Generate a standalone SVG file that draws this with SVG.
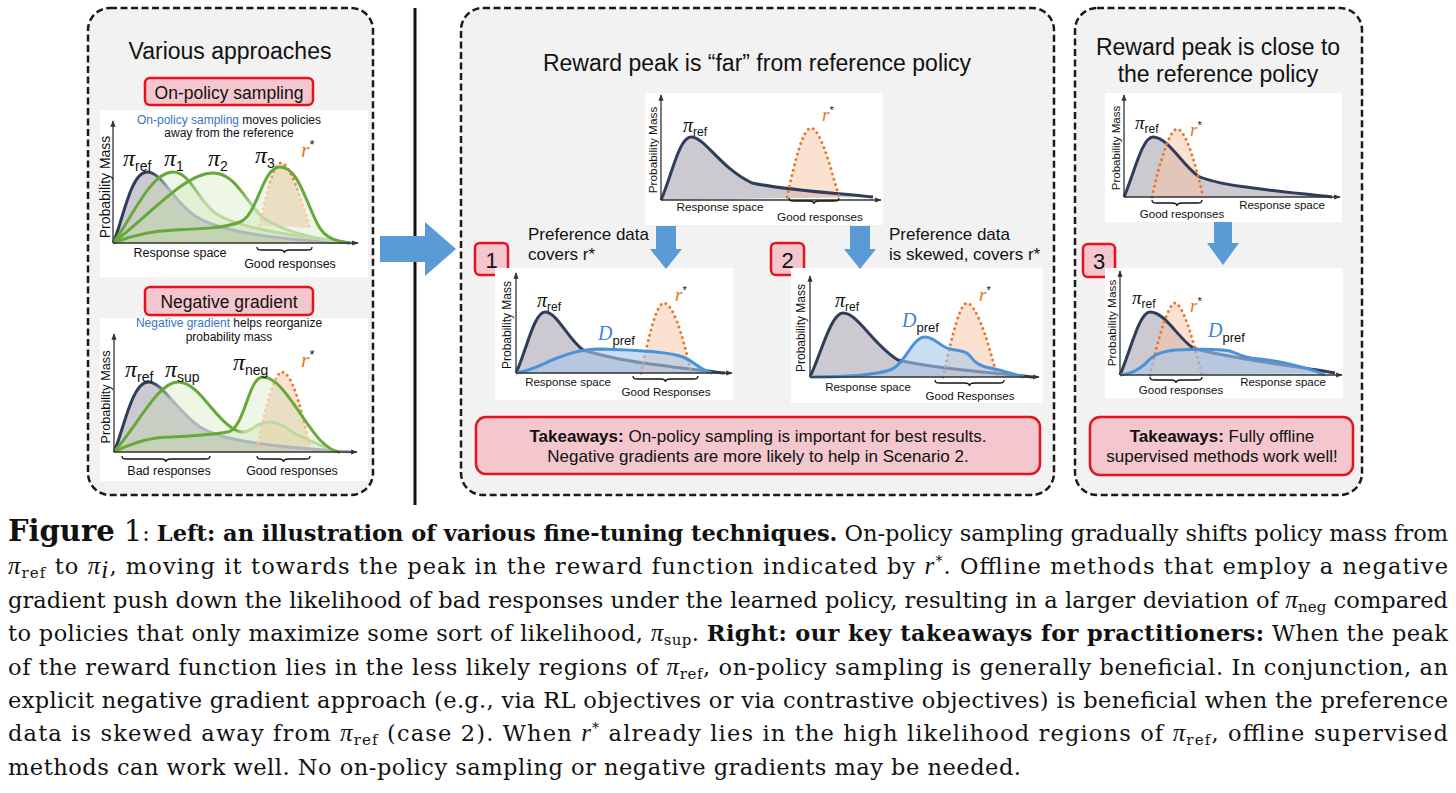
<svg xmlns="http://www.w3.org/2000/svg" width="1456" height="793" viewBox="0 0 1456 793">
<defs>
<style>
.panel{fill:#f2f2f2;stroke:#1a1a1a;stroke-width:2.5;stroke-dasharray:7 3.5}
.red{fill:#f3c7cd;stroke:#e5131d;stroke-width:2.5}
.bg{fill:#ffffff}
.ax{stroke:#333;stroke-width:1.3;fill:none}
.sans{font-family:"Liberation Sans",Arial,sans-serif;fill:#111}
.mi{font-family:"Liberation Serif","Times New Roman",serif;font-style:italic}
.refl{stroke:#2f3d5a;stroke-width:3;fill:none;stroke-linejoin:round}
.reff{fill:#8f8899;fill-opacity:0.45;stroke:none}
.grl{stroke:#67a83a;stroke-width:3;fill:none}
.grf{fill:#bcdca0;fill-opacity:0.26;stroke:none}
.rsl{stroke:#e8762a;stroke-width:3;fill:none;stroke-dasharray:0 5.5;stroke-linecap:round}
.rsf{fill:#f7c4a2;fill-opacity:0.5;stroke:none}
.dpl{stroke:#4b93d8;stroke-width:3;fill:none}
.dpf{fill:#a9c7ea;fill-opacity:0.6;stroke:none}
.arr{fill:#5b9bd5}
.brace{stroke:#111;stroke-width:1.3;fill:none}
.cap{font-family:"DejaVu Serif","Liberation Serif",serif;font-size:22.5px;fill:#111}
.cmi{font-family:"Liberation Serif","Times New Roman",serif;font-style:italic;font-size:25px}
</style>
<marker id="ah" viewBox="0 0 10 10" refX="9" refY="5" markerWidth="5" markerHeight="5" orient="auto"><path d="M0,1 L10,5 L0,9 Z" fill="#333"/></marker>
<linearGradient id="gRefLT" gradientUnits="userSpaceOnUse" x1="150" y1="0" x2="170" y2="0"><stop offset="0" stop-color="#2f3d5a"/><stop offset="1" stop-color="#b0b5be"/></linearGradient>
<linearGradient id="gP1" gradientUnits="userSpaceOnUse" x1="186" y1="0" x2="204" y2="0"><stop offset="0" stop-color="#67a83a"/><stop offset="1" stop-color="#bcd9a3"/></linearGradient>
<linearGradient id="gP2" gradientUnits="userSpaceOnUse" x1="238" y1="0" x2="256" y2="0"><stop offset="0" stop-color="#67a83a"/><stop offset="1" stop-color="#bcd9a3"/></linearGradient>
<linearGradient id="gRsLT" gradientUnits="userSpaceOnUse" x1="260" y1="0" x2="310" y2="0"><stop offset="0.16" stop-color="#f5c8aa"/><stop offset="0.3" stop-color="#e8762a"/><stop offset="0.66" stop-color="#e8762a"/><stop offset="0.8" stop-color="#f5c8aa"/></linearGradient>
<linearGradient id="gRefLB" gradientUnits="userSpaceOnUse" x1="152" y1="0" x2="172" y2="0"><stop offset="0" stop-color="#2f3d5a"/><stop offset="1" stop-color="#b0b5be"/></linearGradient>
<linearGradient id="gSup" gradientUnits="userSpaceOnUse" x1="234" y1="0" x2="246" y2="0"><stop offset="0" stop-color="#67a83a"/><stop offset="1" stop-color="#bcd9a3"/></linearGradient>
<linearGradient id="gRsLB" gradientUnits="userSpaceOnUse" x1="257" y1="0" x2="310" y2="0"><stop offset="0.3" stop-color="#f5c8aa"/><stop offset="0.42" stop-color="#e8762a"/><stop offset="0.8" stop-color="#e8762a"/><stop offset="0.95" stop-color="#f5c8aa"/></linearGradient>
</defs>

<!-- Left panel -->
<g id="panel-left">
<rect class="panel" x="88" y="8" width="285" height="487" rx="22"/>
<text class="sans" x="230" y="59" font-size="23" text-anchor="middle">Various approaches</text>
</g>
<g id="box-onpolicy">
<rect class="red" x="145" y="78" width="168" height="27" rx="5"/>
<text class="sans" x="229" y="99" font-size="17.5" text-anchor="middle">On-policy sampling</text>
</g>
<g id="chart-onpolicy">
<rect class="bg" x="100" y="110" width="268" height="167"/>
<text class="sans" x="229" y="124" font-size="12" text-anchor="middle"><tspan fill="#3b73c4">On-policy sampling</tspan> moves policies</text>
<text class="sans" x="229" y="137" font-size="12" text-anchor="middle">away from the reference</text>
<path class="reff" d="M113,243 C122,225 130,172 147,172 C162,172 172,200 195,216 C220,232 280,240 352,243 Z"/>
<path class="grf" d="M113,243 C130,222 150,172 173,172 C190,172 198,200 215,213 C240,230 300,236 350,243 Z"/>
<path class="grf" d="M113,243 C150,215 185,173 213,173 C235,173 245,200 262,217 C285,233 320,240 350,243 Z"/>
<path class="rsf" d="M260,225 C266,195 273,163 281,163 C290,163 300,195 310,228 Z"/>
<path class="grf" d="M113,243 C130,236 150,231 175,230 C200,229 225,228 240,222 C258,215 262,167 280,167 C298,167 305,200 318,225 C325,238 335,241 350,243 Z"/>
<path class="refl" style="stroke:url(#gRefLT)" d="M113,243 C122,225 130,172 147,172 C162,172 172,200 195,216 C220,232 280,240 352,243"/>
<path class="grl" style="stroke:url(#gP1)" d="M113,243 C130,222 150,172 173,172 C190,172 198,200 215,213 C240,230 300,236 350,243"/>
<path class="grl" style="stroke:url(#gP2)" d="M113,243 C150,215 185,173 213,173 C235,173 245,200 262,217 C285,233 320,240 350,243"/>
<path class="rsl" style="stroke:url(#gRsLT)" d="M260,225 C266,195 273,163 281,163 C290,163 300,195 310,228"/>
<path class="grl" d="M113,243 C130,236 150,231 175,230 C200,229 225,228 240,222 C258,215 262,167 280,167 C298,167 305,200 318,225 C325,238 335,241 350,243"/>
<line class="ax" x1="113" y1="243" x2="113" y2="121" marker-end="url(#ah)"/>
<line class="ax" x1="113" y1="243" x2="358" y2="243" marker-end="url(#ah)"/>
<text class="sans" font-size="14" text-anchor="middle" transform="translate(110,187) rotate(-90)">Probability Mass</text>
<text x="123" y="166"><tspan class="mi" font-size="24" fill="#111">π</tspan><tspan class="sans" font-size="14" dy="5">ref</tspan></text>
<text x="164" y="166"><tspan class="mi" font-size="24" fill="#111">π</tspan><tspan class="sans" font-size="14" dy="5">1</tspan></text>
<text x="208" y="166"><tspan class="mi" font-size="24" fill="#111">π</tspan><tspan class="sans" font-size="14" dy="5">2</tspan></text>
<text x="255" y="163"><tspan class="mi" font-size="24" fill="#111">π</tspan><tspan class="sans" font-size="14" dy="5">3</tspan></text>
<text x="301" y="157" fill="#e8762a"><tspan class="mi" font-size="22">r</tspan><tspan class="sans" font-size="13" dy="-8" fill="#e8762a">*</tspan></text>
<text class="sans" x="180" y="257" font-size="12.5" text-anchor="middle">Response space</text>
<path class="brace" d="M257,247 C257,250 259,250 262,250 L279.5,250 C282.5,250 284.5,251 284.5,253 C284.5,251 286.5,250 289.5,250 L307,250 C310,250 312,250 312,247"/>
<text class="sans" x="290" y="268" font-size="12.5" text-anchor="middle">Good responses</text>
</g>
<g id="box-neggrad">
<rect class="red" x="145" y="287" width="168" height="28" rx="5"/>
<text class="sans" x="229" y="308" font-size="17.5" text-anchor="middle">Negative gradient</text>
</g>
<g id="chart-neggrad">
<rect class="bg" x="100" y="318" width="268" height="163"/>
<text class="sans" x="229" y="327" font-size="12" text-anchor="middle"><tspan fill="#3b73c4">Negative gradient</tspan> helps reorganize</text>
<text class="sans" x="229" y="341" font-size="12" text-anchor="middle">probability mass</text>
<path class="reff" d="M114,452 C123,432 132,382 148,382 C163,382 175,410 200,427 C225,443 290,448 352,452 Z"/>
<path class="grf" d="M114,452 C138,425 158,382 178,382 C198,382 212,415 232,428 C238,432 243,433 248,431 C256,426 262,422 270,422 C282,422 290,432 300,436 C315,443 330,450 340,452 Z"/>
<path class="rsf" d="M257,448 C265,410 274,372 282,372 C292,372 302,410 310,448 Z"/>
<path class="grf" d="M114,452 C128,445 150,437 170,437 C195,436 215,434 228,432 C245,428 248,377 263,377 C282,377 300,418 320,440 C328,448 335,452 340,452 Z"/>
<path class="refl" style="stroke:url(#gRefLB)" d="M114,452 C123,432 132,382 148,382 C163,382 175,410 200,427 C225,443 290,448 352,452"/>
<path class="grl" style="stroke:url(#gSup)" d="M114,452 C138,425 158,382 178,382 C198,382 212,415 232,428 C238,432 243,433 248,431 C256,426 262,422 270,422 C282,422 290,432 300,436 C315,443 330,450 340,452"/>
<path class="rsl" style="stroke:url(#gRsLB)" d="M257,448 C265,410 274,372 282,372 C292,372 302,410 310,448"/>
<path class="grl" d="M114,452 C128,445 150,437 170,437 C195,436 215,434 228,432 C245,428 248,377 263,377 C282,377 300,418 320,440 C328,448 335,452 340,452"/>
<line class="ax" x1="114" y1="452" x2="114" y2="334" marker-end="url(#ah)"/>
<line class="ax" x1="114" y1="452" x2="357" y2="452" marker-end="url(#ah)"/>
<text class="sans" font-size="12.7" text-anchor="middle" transform="translate(110,397) rotate(-90)">Probability Mass</text>
<text x="125" y="377"><tspan class="mi" font-size="24" fill="#111">π</tspan><tspan class="sans" font-size="14" dy="5">ref</tspan></text>
<text x="165" y="377"><tspan class="mi" font-size="24" fill="#111">π</tspan><tspan class="sans" font-size="14" dy="5">sup</tspan></text>
<text x="233" y="370"><tspan class="mi" font-size="24" fill="#111">π</tspan><tspan class="sans" font-size="14" dy="5">neg</tspan></text>
<text x="301" y="367" fill="#e8762a"><tspan class="mi" font-size="22">r</tspan><tspan class="sans" font-size="13" dy="-8" fill="#e8762a">*</tspan></text>
<path class="brace" d="M122,456 C122,459 124,459 127,459 L161,459 C164,459 166,460 166,462 C166,460 168,459 171,459 L205,459 C208,459 210,459 210,456"/>
<path class="brace" d="M257,456 C257,459 259,459 262,459 L278.5,459 C281.5,459 283.5,460 283.5,462 C283.5,460 285.5,459 288.5,459 L305,459 C308,459 310,459 310,456"/>
<text class="sans" x="169" y="475" font-size="12.5" text-anchor="middle">Bad responses</text>
<text class="sans" x="292" y="475" font-size="12.5" text-anchor="middle">Good responses</text>
</g>

<line id="divider" x1="415" y1="8" x2="415" y2="505" stroke="#111" stroke-width="3"/>

<!-- Middle panel -->
<g id="panel-middle">
<rect class="panel" x="461" y="8" width="593" height="487" rx="22"/>
<text class="sans" x="757" y="71" font-size="23" text-anchor="middle">Reward peak is “far” from reference policy</text>
<text class="sans" x="528" y="240" font-size="17">Preference data</text>
<text class="sans" x="528" y="260" font-size="17">covers r*</text>
<text class="sans" x="889" y="240" font-size="17">Preference data</text>
<text class="sans" x="889" y="260" font-size="17">is skewed, covers r*</text>
</g>
<g id="chart-far">
<rect class="bg" x="645" y="93" width="238" height="132"/>
<path class="reff" d="M661,200 C671,178 679,137 691,137 C705,137 720,168 752,183 C790,191 840,193 873,197 Z"/>
<path class="rsf" d="M787,197 C795,160 803,128 811,128 C820,128 830,165 839,197 Z"/>
<path class="refl" d="M661,200 C671,178 679,137 691,137 C705,137 720,168 752,183 C790,191 840,193 873,197"/>
<path class="rsl" d="M787,197 C795,160 803,128 811,128 C820,128 830,165 839,197"/>
<line class="ax" x1="661" y1="200" x2="661" y2="95" marker-end="url(#ah)"/>
<line class="ax" x1="661" y1="200" x2="881" y2="200" marker-end="url(#ah)"/>
<text class="sans" font-size="11.8" text-anchor="middle" transform="translate(657,150) rotate(-90)">Probability Mass</text>
<text x="683" y="132"><tspan class="mi" font-size="20" fill="#111">π</tspan><tspan class="sans" font-size="12" dy="4">ref</tspan></text>
<text x="822" y="121" fill="#e8762a"><tspan class="mi" font-size="19">r</tspan><tspan class="sans" font-size="11" dy="-7" fill="#e8762a">*</tspan></text>
<text class="sans" x="720" y="211" font-size="11.7" text-anchor="middle">Response space</text>
<path class="brace" d="M789,198 C789,201 791,201 794,201 L809,201 C812,201 814,202 814,204 C814,202 816,201 819,201 L834,201 C837,201 839,201 839,198"/>
<text class="sans" x="820" y="221" font-size="11.7" text-anchor="middle">Good responses</text>
</g>
<g id="badge-1">
<rect class="red" x="475" y="243" width="33" height="32" rx="5"/>
<text class="sans" x="491.5" y="268" font-size="22" text-anchor="middle">1</text>
</g>
<g id="chart-case1">
<rect class="bg" x="495" y="268" width="238" height="132"/>
<path class="reff" d="M516,373 C526,352 534,312 545,312 C557,312 567,338 583,350 C620,362 680,368 725,373 Z"/>
<path class="rsf" d="M641,373 C650,330 657,303 664,303 C672,303 682,330 691,373 Z"/>
<path class="refl" d="M516,373 C526,352 534,312 545,312 C557,312 567,338 583,350 C620,362 680,368 725,373"/>
<path class="rsl" d="M641,373 C650,330 657,303 664,303 C672,303 682,330 691,373"/>
<path class="dpf" d="M516,373 C535,370 545,362 560,357 C575,351 585,349 600,349 C640,350 670,352 683,357 C695,362 700,370 712,373 Z"/>
<path class="dpl" d="M516,373 C535,370 545,362 560,357 C575,351 585,349 600,349 C640,350 670,352 683,357 C695,362 700,370 712,373"/>
<line class="ax" x1="516" y1="373" x2="516" y2="273" marker-end="url(#ah)"/>
<line class="ax" x1="516" y1="373" x2="732" y2="373" marker-end="url(#ah)"/>
<text class="sans" font-size="12" text-anchor="middle" transform="translate(511,325) rotate(-90)">Probability Mass</text>
<text x="537" y="307"><tspan class="mi" font-size="20" fill="#111">π</tspan><tspan class="sans" font-size="12" dy="4">ref</tspan></text>
<text x="598" y="340" fill="#3f86d4"><tspan class="mi" font-size="20">D</tspan><tspan class="sans" font-size="13" dy="5" fill="#3f86d4">pref</tspan></text>
<text x="675" y="301" fill="#e8762a"><tspan class="mi" font-size="19">r</tspan><tspan class="sans" font-size="11" dy="-7" fill="#e8762a">*</tspan></text>
<text class="sans" x="568" y="386" font-size="11.5" text-anchor="middle">Response space</text>
<path class="brace" d="M633,376 C633,379 635,379 638,379 L660.5,379 C663.5,379 665.5,380 665.5,382 C665.5,380 667.5,379 670.5,379 L693,379 C696,379 698,379 698,376"/>
<text class="sans" x="666" y="396" font-size="11.5" text-anchor="middle">Good Responses</text>
</g>
<g id="badge-2">
<rect class="red" x="771" y="243" width="33" height="32" rx="5"/>
<text class="sans" x="787.5" y="268" font-size="22" text-anchor="middle">2</text>
</g>
<g id="chart-case2">
<rect class="bg" x="791" y="268" width="252" height="135"/>
<path class="reff" d="M810,377 C821,354 831,313 843,313 C858,313 873,345 898,360 C940,370 1000,373 1033,377 Z"/>
<path class="rsf" d="M943,377 C952,335 960,303 967,303 C975,303 987,335 997,377 Z"/>
<path class="refl" d="M810,377 C821,354 831,313 843,313 C858,313 873,345 898,360 C940,370 1000,373 1033,377"/>
<path class="rsl" d="M943,377 C952,335 960,303 967,303 C975,303 987,335 997,377"/>
<path class="dpf" d="M810,377 C850,377 875,375 890,370 C905,365 912,337 925,337 C935,337 940,347 950,349 C960,351 966,351 970,356 C975,363 980,366 990,368 C1005,371 1015,375 1024,377 Z"/>
<path class="dpl" d="M810,377 C850,377 875,375 890,370 C905,365 912,337 925,337 C935,337 940,347 950,349 C960,351 966,351 970,356 C975,363 980,366 990,368 C1005,371 1015,375 1024,377"/>
<line class="ax" x1="810" y1="377" x2="810" y2="276" marker-end="url(#ah)"/>
<line class="ax" x1="810" y1="377" x2="1039" y2="377" marker-end="url(#ah)"/>
<text class="sans" font-size="12" text-anchor="middle" transform="translate(805,328) rotate(-90)">Probability Mass</text>
<text x="835" y="307"><tspan class="mi" font-size="20" fill="#111">π</tspan><tspan class="sans" font-size="12" dy="4">ref</tspan></text>
<text x="902" y="327" fill="#3f86d4"><tspan class="mi" font-size="20">D</tspan><tspan class="sans" font-size="13" dy="5" fill="#3f86d4">pref</tspan></text>
<text x="979" y="301" fill="#e8762a"><tspan class="mi" font-size="19">r</tspan><tspan class="sans" font-size="11" dy="-7" fill="#e8762a">*</tspan></text>
<text class="sans" x="868" y="391" font-size="11.5" text-anchor="middle">Response space</text>
<path class="brace" d="M935,380 C935,383 937,383 940,383 L964.5,383 C967.5,383 969.5,384 969.5,386 C969.5,384 971.5,383 974.5,383 L999,383 C1002,383 1004,383 1004,380"/>
<text class="sans" x="970" y="400" font-size="11.5" text-anchor="middle">Good Responses</text>
</g>
<g id="takeaway-far">
<rect class="red" x="476" y="417" width="564" height="57" rx="10"/>
<text class="sans" x="758" y="442" font-size="17" text-anchor="middle"><tspan font-weight="bold">Takeaways:</tspan> On-policy sampling is important for best results.</text>
<text class="sans" x="758" y="462" font-size="17" text-anchor="middle">Negative gradients are more likely to help in Scenario 2.</text>
</g>

<!-- Right panel -->
<g id="panel-right">
<rect class="panel" x="1075" y="8" width="287" height="487" rx="22"/>
<text class="sans" x="1218" y="55" font-size="23" text-anchor="middle">Reward peak is close to</text>
<text class="sans" x="1218" y="82" font-size="23" text-anchor="middle">the reference policy</text>
</g>
<g id="chart-close">
<rect class="bg" x="1105" y="93" width="237" height="129"/>
<path class="reff" d="M1124,197 C1134,174 1142,137 1153,137 C1168,137 1182,165 1198,176 C1220,187 1290,192 1332,197 Z"/>
<path class="rsf" d="M1152,197 C1160,160 1170,129 1177,129 C1185,129 1195,160 1203,197 Z"/>
<path class="refl" d="M1124,197 C1134,174 1142,137 1153,137 C1168,137 1182,165 1198,176 C1220,187 1290,192 1332,197"/>
<path class="rsl" d="M1152,197 C1160,160 1170,129 1177,129 C1185,129 1195,160 1203,197"/>
<line class="ax" x1="1124" y1="197" x2="1124" y2="95" marker-end="url(#ah)"/>
<line class="ax" x1="1124" y1="197" x2="1340" y2="197" marker-end="url(#ah)"/>
<text class="sans" font-size="11.5" text-anchor="middle" transform="translate(1120,148) rotate(-90)">Probability Mass</text>
<text x="1135" y="129"><tspan class="mi" font-size="19" fill="#111">π</tspan><tspan class="sans" font-size="12" dy="4">ref</tspan></text>
<text x="1190" y="136" fill="#e8762a"><tspan class="mi" font-size="19">r</tspan><tspan class="sans" font-size="11" dy="-7" fill="#e8762a">*</tspan></text>
<path class="brace" d="M1152,200 C1152,203 1154,203 1157,203 L1172,203 C1175,203 1177,204 1177,206 C1177,204 1179,203 1182,203 L1197,203 C1200,203 1202,203 1202,200"/>
<text class="sans" x="1182" y="218" font-size="11.5" text-anchor="middle">Good responses</text>
<text class="sans" x="1282" y="209" font-size="11.5" text-anchor="middle">Response space</text>
</g>
<g id="badge-3">
<rect class="red" x="1083" y="244" width="32" height="33" rx="5"/>
<text class="sans" x="1099" y="269" font-size="22" text-anchor="middle">3</text>
</g>
<g id="chart-close-data">
<rect class="bg" x="1105" y="268" width="238" height="130"/>
<path class="reff" d="M1120,375 C1130,353 1139,312 1150,312 C1165,312 1178,338 1193,348 C1220,357 1300,367 1335,373 Z"/>
<path class="rsf" d="M1150,375 C1158,340 1168,303 1175,303 C1183,303 1193,340 1202,375 Z"/>
<path class="refl" d="M1120,375 C1130,353 1139,312 1150,312 C1165,312 1178,338 1193,348 C1220,357 1300,367 1335,373"/>
<path class="rsl" d="M1150,375 C1158,340 1168,303 1175,303 C1183,303 1193,340 1202,375"/>
<path class="dpf" d="M1120,375 C1135,373 1140,368 1145,364 C1152,356 1158,352 1175,350 C1195,349 1220,349 1230,351 C1240,355 1245,358 1260,359 C1280,361 1310,368 1325,375 Z"/>
<path class="dpl" d="M1120,375 C1135,373 1140,368 1145,364 C1152,356 1158,352 1175,350 C1195,349 1220,349 1230,351 C1240,355 1245,358 1260,359 C1280,361 1310,368 1325,375"/>
<line class="ax" x1="1120" y1="375" x2="1120" y2="271" marker-end="url(#ah)"/>
<line class="ax" x1="1120" y1="375" x2="1342" y2="375" marker-end="url(#ah)"/>
<text class="sans" font-size="11.8" text-anchor="middle" transform="translate(1116,323) rotate(-90)">Probability Mass</text>
<text x="1132" y="304"><tspan class="mi" font-size="19" fill="#111">π</tspan><tspan class="sans" font-size="12" dy="4">ref</tspan></text>
<text x="1190" y="312" fill="#e8762a"><tspan class="mi" font-size="19">r</tspan><tspan class="sans" font-size="11" dy="-7" fill="#e8762a">*</tspan></text>
<text x="1208" y="337" fill="#3f86d4"><tspan class="mi" font-size="20">D</tspan><tspan class="sans" font-size="13" dy="5" fill="#3f86d4">pref</tspan></text>
<path class="brace" d="M1150,377 C1150,380 1152,380 1155,380 L1171,380 C1174,380 1176,381 1176,383 C1176,381 1178,380 1181,380 L1197,380 C1200,380 1202,380 1202,377"/>
<text class="sans" x="1181" y="394" font-size="11.5" text-anchor="middle">Good responses</text>
<text class="sans" x="1283" y="386" font-size="11.5" text-anchor="middle">Response space</text>
</g>
<g id="takeaway-close">
<rect class="red" x="1090" y="417" width="263" height="58" rx="10"/>
<text class="sans" x="1222" y="442" font-size="17" text-anchor="middle"><tspan font-weight="bold">Takeaways:</tspan> Fully offline</text>
<text class="sans" x="1222" y="462" font-size="17" text-anchor="middle">supervised methods work well!</text>
</g>

<!-- Connectors -->
<g id="connectors">
<polygon class="arr" points="380,236 425,236 425,222 456,249 425,276 425,262 380,262"/>
<polygon class="arr" points="656,226 676,226 676,249 682,249 666,269 650,249 656,249"/>
<polygon class="arr" points="850,226 870,226 870,249 876,249 860,269 844,249 850,249"/>
<polygon class="arr" points="1214,222 1232,222 1232,243 1239,243 1223,265 1207,243 1214,243"/>
</g>

<!-- Caption -->
<g id="caption" class="cap">
<text x="8" y="541" textLength="1440" lengthAdjust="spacing"><tspan font-size="29" font-weight="bold">Figure</tspan><tspan font-size="29"> 1</tspan>: <tspan font-weight="bold">Left: an illustration of various fine-tuning techniques.</tspan> On-policy sampling gradually shifts policy mass from</text>
<text x="8" y="574" textLength="1440" lengthAdjust="spacing"><tspan class="cmi">π</tspan><tspan font-size="15" dy="4">ref</tspan><tspan dy="-4"> to </tspan><tspan class="cmi">π</tspan><tspan class="cmi" font-size="16" dy="4">i</tspan><tspan dy="-4">, moving it towards the peak in the reward function indicated by </tspan><tspan class="cmi">r</tspan><tspan font-size="14" dy="-8">*</tspan><tspan dy="8">. Offline methods that employ a negative</tspan></text>
<text x="8" y="608" textLength="1440" lengthAdjust="spacing">gradient push down the likelihood of bad responses under the learned policy, resulting in a larger deviation of <tspan class="cmi">π</tspan><tspan font-size="15" dy="4">neg</tspan><tspan dy="-4"> compared</tspan></text>
<text x="8" y="641" textLength="1440" lengthAdjust="spacing">to policies that only maximize some sort of likelihood, <tspan class="cmi">π</tspan><tspan font-size="15" dy="4">sup</tspan><tspan dy="-4">. </tspan><tspan font-weight="bold">Right: our key takeaways for practitioners:</tspan> When the peak</text>
<text x="8" y="675" textLength="1440" lengthAdjust="spacing">of the reward function lies in the less likely regions of <tspan class="cmi">π</tspan><tspan font-size="15" dy="4">ref</tspan><tspan dy="-4">, on-policy sampling is generally beneficial. In conjunction, an</tspan></text>
<text x="8" y="708" textLength="1440" lengthAdjust="spacing">explicit negative gradient approach (e.g., via RL objectives or via contrastive objectives) is beneficial when the preference</text>
<text x="8" y="741" textLength="1440" lengthAdjust="spacing">data is skewed away from <tspan class="cmi">π</tspan><tspan font-size="15" dy="4">ref</tspan><tspan dy="-4"> (case 2). When </tspan><tspan class="cmi">r</tspan><tspan font-size="14" dy="-8">*</tspan><tspan dy="8"> already lies in the high likelihood regions of </tspan><tspan class="cmi">π</tspan><tspan font-size="15" dy="4">ref</tspan><tspan dy="-4">, offline supervised</tspan></text>
<text x="8" y="775" textLength="1013" lengthAdjust="spacing">methods can work well. No on-policy sampling or negative gradients may be needed.</text>
</g>
</svg>
